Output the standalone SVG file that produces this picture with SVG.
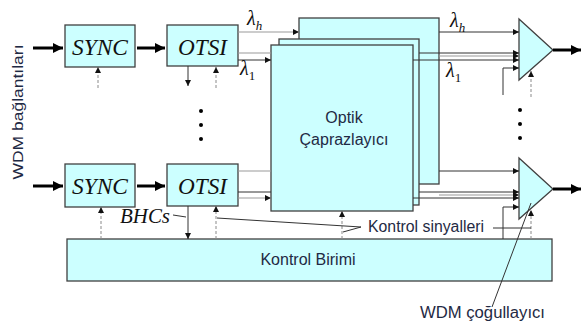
<svg xmlns="http://www.w3.org/2000/svg" width="582" height="325" viewBox="0 0 582 325">
<defs>
<style>
.box{fill:#ccffff;stroke:#404040;stroke-width:1.3}
.ser{font-family:"Liberation Serif","Times New Roman",serif;font-style:italic;fill:#111}
.sans{font-family:"Liberation Sans",Arial,sans-serif;fill:#1f2a44}
.ln{fill:none;stroke:#333;stroke-width:1}
.lg{fill:none;stroke:#9a9a9a;stroke-width:1.2}
.th{fill:none;stroke:#000;stroke-width:3}
.ds{fill:none;stroke:#8a8a8a;stroke-width:1;stroke-dasharray:3,2}
</style>
<marker id="a" viewBox="0 0 10 10" refX="10" refY="5" markerWidth="7" markerHeight="6" markerUnits="userSpaceOnUse" orient="auto"><path d="M0,0L10,5L0,10z" fill="#111"/></marker>
<marker id="b" viewBox="0 0 10 10" refX="10" refY="5" markerWidth="12" markerHeight="10" markerUnits="userSpaceOnUse" orient="auto"><path d="M0,0L10,5L0,10z" fill="#000"/></marker>
</defs>
<rect width="582" height="325" fill="#fff"/>

<g id="crossbar">
<rect class="box" x="299" y="18" width="140" height="166"/>
<rect class="box" x="279" y="39" width="140" height="166"/>
<rect class="box" x="271" y="45" width="142" height="166"/>
<text class="sans" x="344" y="123" font-size="16" text-anchor="middle">Optik</text>
<text class="sans" x="344" y="145" font-size="16" text-anchor="middle">Çaprazlayıcı</text>
</g>
<g id="sync1"><rect class="box" x="65" y="25" width="70" height="42"/><text class="ser" x="100" y="55" font-size="24" text-anchor="middle" textLength="56" lengthAdjust="spacingAndGlyphs">SYNC</text></g>
<g id="otsi1"><rect class="box" x="167" y="25" width="71" height="41"/><text class="ser" x="202.5" y="55" font-size="24" text-anchor="middle" textLength="49" lengthAdjust="spacingAndGlyphs">OTSI</text></g>
<g id="sync2"><rect class="box" x="65" y="164" width="70" height="43"/><text class="ser" x="100" y="194" font-size="24" text-anchor="middle" textLength="56" lengthAdjust="spacingAndGlyphs">SYNC</text></g>
<g id="otsi2"><rect class="box" x="167" y="164" width="71" height="42"/><text class="ser" x="202.5" y="194" font-size="24" text-anchor="middle" textLength="49" lengthAdjust="spacingAndGlyphs">OTSI</text></g>
<g id="control"><rect class="box" x="67" y="239" width="485" height="42"/><text class="sans" x="308" y="265" font-size="16" text-anchor="middle">Kontrol Birimi</text></g>
<g id="mux1"><path class="box" d="M519,19L553,50L519,80z"/></g>
<g id="mux2"><path class="box" d="M519,158L553,189L519,219z"/></g>

<g id="connectors">
<path class="th" d="M33,48H63" marker-end="url(#b)"/>
<path class="th" d="M137,48H165" marker-end="url(#b)"/>
<path class="th" d="M33,186H63" marker-end="url(#b)"/>
<path class="th" d="M137,186H165" marker-end="url(#b)"/>
<path class="th" d="M553,50H581" marker-end="url(#b)"/>
<path class="th" d="M553,189H581" marker-end="url(#b)"/>
<path class="lg" d="M238,32H299" marker-end="url(#a)"/>
<path class="lg" d="M238,53H271" stroke-width="2"/>
<path class="ln" d="M238,60H271" marker-end="url(#a)"/>
<path class="lg" d="M238,171H271"/>
<path class="ln" d="M238,192H271"/>
<path class="lg" d="M238,198H271" marker-end="url(#a)"/>
<path class="ln" stroke="#666" d="M439,32H519" marker-end="url(#a)"/>
<path class="ln" d="M419,53H519" marker-end="url(#a)"/>
<path class="lg" d="M439,56H519" marker-end="url(#a)"/>
<path class="ln" d="M413,60H519" marker-end="url(#a)"/>
<path class="ln" d="M503,95V68H519" marker-end="url(#a)"/>
<path class="ln" d="M439,171H519" marker-end="url(#a)"/>
<path class="ln" d="M419,192H519" marker-end="url(#a)"/>
<path class="lg" d="M439,195H519" marker-end="url(#a)"/>
<path class="ln" d="M413,198H519" marker-end="url(#a)"/>
<path class="ln" d="M503,239V207H519" marker-end="url(#a)"/>
<path class="ds" d="M98,88V67" marker-end="url(#a)"/>
<path class="ln" d="M188,66V86" marker-end="url(#a)"/>
<path class="ds" d="M216,88V67" marker-end="url(#a)"/>
<path class="ds" d="M531,97V71" marker-end="url(#a)"/>
<path class="ds" d="M101,239V207" marker-end="url(#a)"/>
<path class="ln" d="M188,206V239" marker-end="url(#a)"/>
<path class="ds" d="M216,239V206" marker-end="url(#a)"/>
<path class="ds" d="M342,239V211" marker-end="url(#a)"/>
<path class="ds" d="M531,239V210" marker-end="url(#a)"/>
<path class="ln" d="M173,215L186,217"/>
<path class="ln" d="M217,218L361,227L343,232"/>
<path class="ln" d="M493,228H531"/>
<path class="ln" d="M492,307L531,203"/>
</g>

<g id="dots" fill="#000">
<circle cx="201" cy="111" r="2"/><circle cx="201" cy="125" r="2"/><circle cx="201" cy="139" r="2"/>
<circle cx="520" cy="110" r="2"/><circle cx="520" cy="124" r="2"/><circle cx="520" cy="138" r="2"/>
</g>

<g id="labels">
<text class="ser" x="247" y="25" font-size="20" font-style="normal">λ<tspan font-size="13" font-style="italic" dy="5">h</tspan></text>
<text class="ser" x="240" y="75" font-size="20" font-style="normal">λ<tspan font-size="13" font-style="normal" dy="5">1</tspan></text>
<text class="ser" x="450" y="27" font-size="20" font-style="normal">λ<tspan font-size="13" font-style="italic" dy="5">h</tspan></text>
<text class="ser" x="446" y="77" font-size="20" font-style="normal">λ<tspan font-size="13" font-style="normal" dy="5">1</tspan></text>
<text class="ser" x="120" y="223" font-size="20" fill="#1a2a50" textLength="50" lengthAdjust="spacingAndGlyphs">BHCs</text>
<text class="sans" x="368" y="232" font-size="16" textLength="116" lengthAdjust="spacingAndGlyphs">Kontrol sinyalleri</text>
<text class="sans" x="420" y="318" font-size="16" textLength="125" lengthAdjust="spacingAndGlyphs">WDM çoğullayıcı</text>
<text class="sans" transform="translate(23,112) rotate(-90)" font-size="15" fill="#17365d" text-anchor="middle" textLength="135" lengthAdjust="spacingAndGlyphs">WDM bağlantıları</text>
</g>
</svg>
